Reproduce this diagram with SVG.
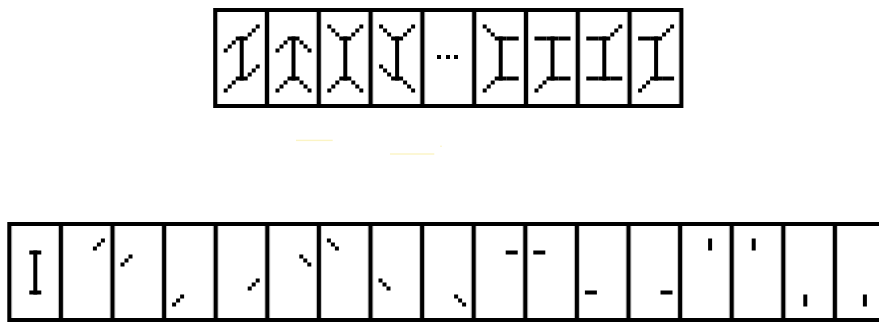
<svg xmlns="http://www.w3.org/2000/svg" xmlns:xlink="http://www.w3.org/1999/xlink" width="879" height="323" viewBox="0 0 879 323">
<style>
.bd{fill:none;stroke:#000;stroke-width:4}
.gl{stroke:#c8c8c8;stroke-width:1}
.k{fill:#000}
.yl{fill:#fbf4c4}
</style>
<defs>
<g id="I" class="k"><rect x="24" y="28" width="4" height="44"/><rect x="20" y="28" width="12" height="4"/><rect x="20" y="68" width="12" height="4"/></g>
<g id="sTR" class="k"><rect x="32" y="24" width="4" height="4"/><rect x="36" y="20" width="4" height="4"/><rect x="40" y="16" width="4" height="4"/></g>
<g id="sTL" class="k"><rect x="16" y="32" width="4" height="4"/><rect x="12" y="36" width="4" height="4"/><rect x="8" y="40" width="4" height="4"/></g>
<g id="sBL" class="k"><rect x="16" y="72" width="4" height="4"/><rect x="12" y="76" width="4" height="4"/><rect x="8" y="80" width="4" height="4"/></g>
<g id="sBR" class="k"><rect x="32" y="64" width="4" height="4"/><rect x="36" y="60" width="4" height="4"/><rect x="40" y="56" width="4" height="4"/></g>
<g id="bTR" class="k"><rect x="32" y="32" width="4" height="4"/><rect x="36" y="36" width="4" height="4"/><rect x="40" y="40" width="4" height="4"/></g>
<g id="bTL" class="k"><rect x="16" y="24" width="4" height="4"/><rect x="12" y="20" width="4" height="4"/><rect x="8" y="16" width="4" height="4"/></g>
<g id="bBL" class="k"><rect x="16" y="64" width="4" height="4"/><rect x="12" y="60" width="4" height="4"/><rect x="8" y="56" width="4" height="4"/></g>
<g id="bBR" class="k"><rect x="32" y="72" width="4" height="4"/><rect x="36" y="76" width="4" height="4"/><rect x="40" y="80" width="4" height="4"/></g>
<rect id="hTR" class="k" x="32" y="28" width="12" height="4"/>
<rect id="hTL" class="k" x="8" y="28" width="12" height="4"/>
<rect id="hBL" class="k" x="8" y="68" width="12" height="4"/>
<rect id="hBR" class="k" x="32" y="68" width="12" height="4"/>
<rect id="vTR" class="k" x="28" y="16" width="4" height="12"/>
<rect id="vTL" class="k" x="20" y="16" width="4" height="12"/>
<rect id="vBL" class="k" x="20" y="72" width="4" height="12"/>
<rect id="vBR" class="k" x="28" y="72" width="4" height="12"/>
</defs>
<rect width="879" height="323" fill="#fff"/>

<g id="faint-marks">
<rect class="yl" x="296" y="139.7" width="36.7" height="1.4"/>
<rect class="yl" x="440" y="145.7" width="2" height="1"/>
<rect class="yl" x="390" y="153.3" width="44.3" height="1.4"/>
</g>

<g id="top-row">
<g id="top-frame">
<g class="gl">
<line x1="217.7" y1="12" x2="217.7" y2="104"/>
<line x1="264.5" y1="12" x2="264.5" y2="104"/><line x1="269.5" y1="12" x2="269.5" y2="104"/>
<line x1="316.3" y1="12" x2="316.3" y2="104"/><line x1="321.3" y1="12" x2="321.3" y2="104"/>
<line x1="368.1" y1="12" x2="368.1" y2="104"/><line x1="373.1" y1="12" x2="373.1" y2="104"/>
<line x1="419.9" y1="12" x2="419.9" y2="104"/><line x1="424.9" y1="12" x2="424.9" y2="104"/>
<line x1="471.7" y1="12" x2="471.7" y2="104"/><line x1="476.7" y1="12" x2="476.7" y2="104"/>
<line x1="523.5" y1="12" x2="523.5" y2="104"/><line x1="528.5" y1="12" x2="528.5" y2="104"/>
<line x1="575.3" y1="12" x2="575.3" y2="104"/><line x1="580.3" y1="12" x2="580.3" y2="104"/>
<line x1="627.1" y1="12" x2="627.1" y2="104"/><line x1="632.1" y1="12" x2="632.1" y2="104"/>
<line x1="678.9" y1="12" x2="678.9" y2="104"/>
</g>
<rect class="bd" x="215.2" y="10" width="466.2" height="96"/>
<g class="bd">
<line x1="267" y1="8" x2="267" y2="108"/>
<line x1="318.8" y1="8" x2="318.8" y2="108"/>
<line x1="370.6" y1="8" x2="370.6" y2="108"/>
<line x1="422.4" y1="8" x2="422.4" y2="108"/>
<line x1="474.2" y1="8" x2="474.2" y2="108"/>
<line x1="526" y1="8" x2="526" y2="108"/>
<line x1="577.8" y1="8" x2="577.8" y2="108"/>
<line x1="629.6" y1="8" x2="629.6" y2="108"/>
</g>
</g>
<g id="t1" transform="translate(215.7,8.5)"><use href="#I"/><use href="#sTL"/><use href="#sTR"/><use href="#sBL"/><use href="#sBR"/></g>
<g id="t2" transform="translate(267.5,8.5)"><use href="#I"/><use href="#sTL"/><use href="#bTR"/><use href="#sBL"/><use href="#bBR"/></g>
<g id="t3" transform="translate(319.3,8.5)"><use href="#I"/><use href="#bTL"/><use href="#sTR"/><use href="#sBL"/><use href="#bBR"/></g>
<g id="t4" transform="translate(371.1,8.5)"><use href="#I"/><use href="#bTL"/><use href="#sTR"/><use href="#bBL"/><use href="#bBR"/></g>
<g id="t5" class="k"><rect x="437" y="55" width="4" height="4"/><rect x="446" y="55" width="4" height="4"/><rect x="454" y="55" width="4" height="4"/></g>
<g id="t6" transform="translate(474.7,8.5)"><use href="#I"/><use href="#bTL"/><use href="#hTR"/><use href="#sBL"/><use href="#hBR"/></g>
<g id="t7" transform="translate(526.5,8.5)"><use href="#I"/><use href="#hTL"/><use href="#hTR"/><use href="#sBL"/><use href="#hBR"/></g>
<g id="t8" transform="translate(578.3,8.5)"><use href="#I"/><use href="#hTL"/><use href="#sTR"/><use href="#hBL"/><use href="#hBR"/></g>
<g id="t9" transform="translate(630.1,8.5)"><use href="#I"/><use href="#hTL"/><use href="#sTR"/><use href="#sBL"/><use href="#hBR"/></g>
</g>

<g id="bottom-row">
<g id="bottom-frame">
<g class="gl">
<line x1="11.8" y1="226" x2="11.8" y2="318"/>
<line x1="58.4" y1="226" x2="58.4" y2="318"/><line x1="63.4" y1="226" x2="63.4" y2="318"/>
<line x1="110" y1="226" x2="110" y2="318"/><line x1="115" y1="226" x2="115" y2="318"/>
<line x1="161.6" y1="226" x2="161.6" y2="318"/><line x1="166.6" y1="226" x2="166.6" y2="318"/>
<line x1="213.2" y1="226" x2="213.2" y2="318"/><line x1="218.2" y1="226" x2="218.2" y2="318"/>
<line x1="264.8" y1="226" x2="264.8" y2="318"/><line x1="269.8" y1="226" x2="269.8" y2="318"/>
<line x1="316.4" y1="226" x2="316.4" y2="318"/><line x1="321.4" y1="226" x2="321.4" y2="318"/>
<line x1="368" y1="226" x2="368" y2="318"/><line x1="373" y1="226" x2="373" y2="318"/>
<line x1="419.6" y1="226" x2="419.6" y2="318"/><line x1="424.6" y1="226" x2="424.6" y2="318"/>
<line x1="471.2" y1="226" x2="471.2" y2="318"/><line x1="476.2" y1="226" x2="476.2" y2="318"/>
<line x1="522.8" y1="226" x2="522.8" y2="318"/><line x1="527.8" y1="226" x2="527.8" y2="318"/>
<line x1="574.4" y1="226" x2="574.4" y2="318"/><line x1="579.4" y1="226" x2="579.4" y2="318"/>
<line x1="626" y1="226" x2="626" y2="318"/><line x1="631" y1="226" x2="631" y2="318"/>
<line x1="677.6" y1="226" x2="677.6" y2="318"/><line x1="682.6" y1="226" x2="682.6" y2="318"/>
<line x1="729.2" y1="226" x2="729.2" y2="318"/><line x1="734.2" y1="226" x2="734.2" y2="318"/>
<line x1="780.8" y1="226" x2="780.8" y2="318"/><line x1="785.8" y1="226" x2="785.8" y2="318"/>
<line x1="832.4" y1="226" x2="832.4" y2="318"/><line x1="837.4" y1="226" x2="837.4" y2="318"/>
</g>
<rect class="bd" x="9.3" y="224" width="900" height="96"/>
<g class="bd">
<line x1="60.9" y1="222" x2="60.9" y2="322"/>
<line x1="112.5" y1="222" x2="112.5" y2="322"/>
<line x1="164.1" y1="222" x2="164.1" y2="322"/>
<line x1="215.7" y1="222" x2="215.7" y2="322"/>
<line x1="267.3" y1="222" x2="267.3" y2="322"/>
<line x1="318.9" y1="222" x2="318.9" y2="322"/>
<line x1="370.5" y1="222" x2="370.5" y2="322"/>
<line x1="422.1" y1="222" x2="422.1" y2="322"/>
<line x1="473.7" y1="222" x2="473.7" y2="322"/>
<line x1="525.3" y1="222" x2="525.3" y2="322"/>
<line x1="576.9" y1="222" x2="576.9" y2="322"/>
<line x1="628.5" y1="222" x2="628.5" y2="322"/>
<line x1="680.1" y1="222" x2="680.1" y2="322"/>
<line x1="731.7" y1="222" x2="731.7" y2="322"/>
<line x1="783.3" y1="222" x2="783.3" y2="322"/>
<line x1="834.9" y1="222" x2="834.9" y2="322"/>
</g>
</g>
<use id="b1" href="#I" transform="translate(9.3,222.5)"/>
<use id="b2" href="#sTR" transform="translate(60.9,222.5)"/>
<use id="b3" href="#sTL" transform="translate(112.5,222.5)"/>
<use id="b4" href="#sBL" transform="translate(164.1,222.5)"/>
<use id="b5" href="#sBR" transform="translate(215.7,222.5)"/>
<use id="b6" href="#bTR" transform="translate(267.3,222.5)"/>
<use id="b7" href="#bTL" transform="translate(318.9,222.5)"/>
<use id="b8" href="#bBL" transform="translate(370.5,222.5)"/>
<use id="b9" href="#bBR" transform="translate(422.1,222.5)"/>
<use id="b10" href="#hTR" transform="translate(473.7,222.5)"/>
<use id="b11" href="#hTL" transform="translate(525.3,222.5)"/>
<use id="b12" href="#hBL" transform="translate(576.9,222.5)"/>
<use id="b13" href="#hBR" transform="translate(628.5,222.5)"/>
<use id="b14" href="#vTR" transform="translate(680.1,222.5)"/>
<use id="b15" href="#vTL" transform="translate(731.7,222.5)"/>
<use id="b16" href="#vBL" transform="translate(783.3,222.5)"/>
<use id="b17" href="#vBR" transform="translate(834.9,222.5)"/>
</g>

<g id="connectors"/>
</svg>
